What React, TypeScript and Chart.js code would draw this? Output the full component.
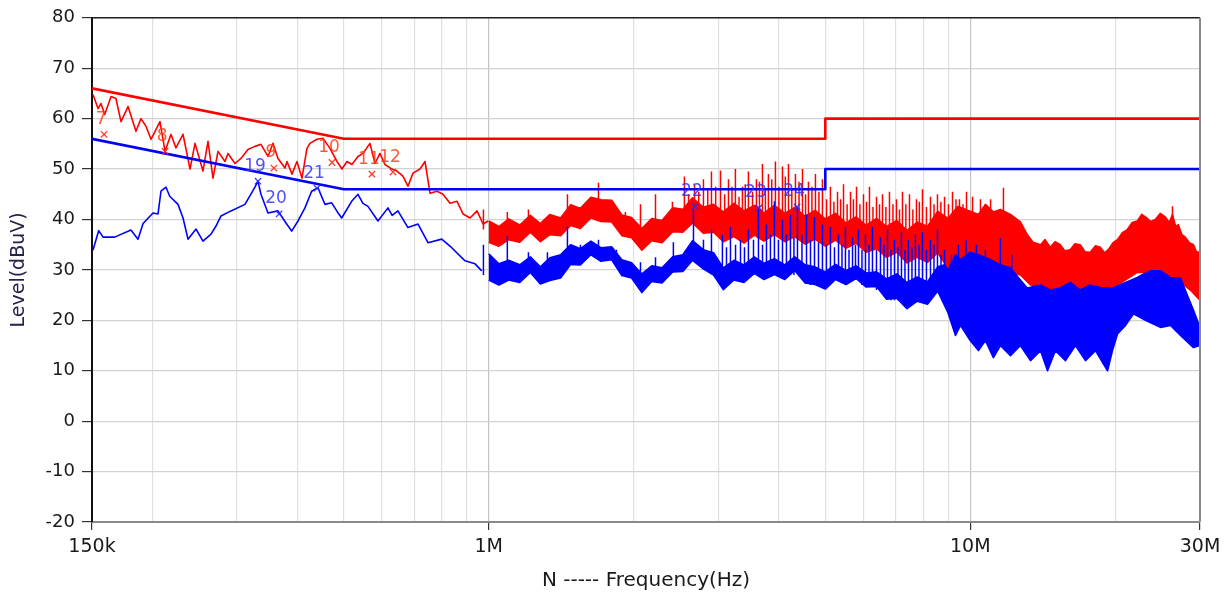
import { useEffect, useRef } from 'react';
import { Chart, registerables } from 'chart.js';

Chart.register(...registerables);

type P = [number, number];
type S = [number, number, number];

// ---- axes ----
const xGridValues = [0.15, 0.2, 0.3, 0.4, 0.5, 0.6, 0.7, 0.8, 0.9, 1, 2, 3, 4, 5, 6, 7, 8, 9, 10, 20, 30];
const xLabelValues = [0.15, 1, 10, 30];
const xLabelTexts = ['150k', '1M', '10M', '30M'];
const xMajorValues = [1, 10];
const yMin = -20;
const yMax = 80;
const yStep = 10;
const xTitle = 'N ----- Frequency(Hz)';
const yTitle = 'Level(dBuV)';

// ---- limit lines (MHz, dBuV) ----
const qpLimit: P[] = [[0.15, 66], [0.5, 56], [5, 56], [5, 60], [30, 60]];
const avLimit: P[] = [[0.15, 56], [0.5, 46], [5, 46], [5, 50], [30, 50]];

// ---- red (peak) trace, 150k - 1M ----
const redLF: P[] = [
  [0.1507, 64.8], [0.1544, 62.0], [0.1566, 63.0], [0.1594, 60.8], [0.1643, 64.4], [0.1682, 64.0], [0.1723, 59.4],
  [0.1782, 62.4], [0.1851, 57.5], [0.1896, 60.0], [0.1942, 58.5], [0.1989, 55.9], [0.2076, 59.4], [0.2127, 53.5],
  [0.2188, 56.9], [0.2241, 54.2], [0.2318, 56.9], [0.2397, 50.0], [0.2455, 55.1], [0.2550, 49.6], [0.2612, 55.5],
  [0.2675, 48.2], [0.2740, 53.5], [0.2833, 51.5], [0.2874, 53.1], [0.2972, 51.1], [0.3058, 52.1], [0.3162, 53.9],
  [0.3270, 54.5], [0.3365, 54.9], [0.3480, 52.5], [0.3564, 55.1], [0.3650, 52.1], [0.3775, 50.2], [0.3811, 51.5],
  [0.3903, 49.0], [0.3997, 51.5], [0.4094, 48.2], [0.4193, 54.1], [0.4253, 55.1], [0.4398, 55.9], [0.4526, 56.1],
  [0.4680, 54.1], [0.4840, 51.5], [0.4957, 50.0], [0.5077, 51.5], [0.5199, 50.9], [0.5351, 52.5], [0.5480, 53.1],
  [0.5667, 55.1], [0.5804, 51.1], [0.5944, 53.1], [0.6088, 50.9], [0.6295, 50.0], [0.6447, 49.6], [0.6635, 48.6],
  [0.6795, 46.6], [0.6962, 49.2], [0.7199, 50.0], [0.7374, 51.5], [0.7552, 45.2], [0.7809, 45.6], [0.8036, 45.0],
  [0.8310, 43.2], [0.8593, 43.6], [0.8844, 41.1], [0.9145, 40.3], [0.9456, 41.7], [0.9732, 39.1], [0.9967, 39.7],
];

// ---- red trace, 1M - 30M band edges ----
const redHigh: P[] = [
  [1.0, 39.7], [1.05, 38.6], [1.1, 40.1], [1.16, 38.9], [1.22, 40.8], [1.28, 39.2], [1.34, 41.0], [1.41, 40.3],
  [1.48, 42.9], [1.55, 42.2], [1.63, 44.4], [1.71, 43.9], [1.8, 43.8], [1.89, 40.9], [1.98, 40.4], [2.08, 38.2],
  [2.18, 40.2], [2.29, 39.8], [2.41, 42.3], [2.53, 42.0], [2.65, 44.3], [2.79, 42.4], [2.93, 43.0], [3.07, 41.5],
  [3.23, 43.2], [3.39, 41.7], [3.56, 42.8], [3.73, 41.3], [3.92, 42.8], [4.12, 41.2], [4.32, 42.4], [4.54, 40.6],
  [4.76, 41.8], [5.0, 40.1], [5.25, 41.2], [5.52, 39.3], [5.79, 40.5], [6.08, 38.8], [6.39, 40.2], [6.7, 38.6],
  [7.04, 39.8], [7.39, 37.8], [7.76, 39.5], [8.15, 38.6], [8.56, 41.6], [8.99, 40.2], [9.43, 42.6], [9.9, 41.8],
  [10.4, 41], [10.75, 43], [11.17, 41.5], [11.55, 42], [12.12, 41], [12.71, 39.5], [13.13, 37], [13.5, 35.5],
  [14.0, 35], [14.3, 36], [14.66, 34.5], [15.0, 35.6], [15.38, 35], [15.7, 33.8], [16.13, 34], [16.5, 35.2],
  [16.92, 35], [17.3, 33.6], [17.75, 33.5], [18.2, 34.8], [18.62, 34.5], [19.0, 33.4], [19.35, 34], [19.8, 35.4],
  [20.22, 36], [20.7, 37.4], [21.19, 38], [21.7, 39.4], [22.23, 39.7], [22.7, 41], [23.11, 40.5], [23.7, 39.6],
  [24.23, 40], [24.8, 41.2], [25.41, 40.5], [25.9, 39.4], [26.3, 41], [26.7, 38.6], [27.04, 39], [27.5, 37],
  [27.96, 36.5], [28.5, 35.4], [29.08, 35], [29.5, 33.6], [30, 33.5],
];
const redLow: P[] = [
  [1.0, 35.5], [1.05, 34.7], [1.1, 36.0], [1.16, 35.5], [1.22, 37.5], [1.28, 35.6], [1.34, 37.0], [1.41, 36.8],
  [1.48, 38.8], [1.55, 38.2], [1.63, 40.3], [1.71, 39.6], [1.8, 39.5], [1.89, 36.8], [1.98, 36.4], [2.08, 33.9],
  [2.18, 35.8], [2.29, 35.4], [2.41, 37.6], [2.53, 37.5], [2.65, 39.3], [2.79, 37.3], [2.93, 37.5], [3.07, 35.6],
  [3.23, 36.6], [3.39, 35.3], [3.56, 36.9], [3.73, 35.7], [3.92, 37.0], [4.12, 35.6], [4.32, 36.6], [4.54, 35.1],
  [4.76, 36.1], [5.0, 34.7], [5.25, 35.9], [5.52, 34.3], [5.79, 35.3], [6.08, 33.5], [6.39, 34.2], [6.7, 32.5],
  [7.04, 33.5], [7.39, 31.4], [7.76, 32.5], [8.15, 31.5], [8.56, 33.4], [8.99, 30.3], [9.43, 30.8], [9.9, 29.5],
  [11.55, 30], [12.71, 29], [13.34, 27], [15.38, 26], [17.75, 25.5], [20.22, 27], [22.23, 29.5], [24.83, 29.5],
  [26.66, 28.5], [28.64, 26], [30, 24],
];
// [MHz, base, top]
const redSpikes: S[] = [
  [0.975, 38, 42], [1.093, 37, 41.5], [1.209, 38, 42], [1.33, 37, 40.5], [1.457, 39, 45], [1.543, 39, 42.5],
  [1.69, 41, 47.3], [1.798, 40, 43.5], [1.922, 38, 41.5], [2.066, 36, 43], [2.22, 36, 45], [2.407, 38, 43.5],
  [2.549, 40, 48.5], [2.675, 40, 47], [2.792, 39, 48], [2.901, 39, 49.5], [3.029, 38, 49.7], [3.147, 38, 48],
  [3.253, 38, 50], [3.364, 38, 46.5], [3.462, 38, 49.5], [3.597, 38, 48], [3.702, 38, 51], [3.809, 38, 49],
  [3.939, 38, 51.5], [4.074, 38, 50.5], [4.193, 38, 51], [4.335, 37, 49], [4.483, 37, 50], [4.613, 37, 47.5],
  [4.77, 37, 49], [4.932, 37, 48], [5.124, 36, 46.5], [5.301, 36, 45.5], [5.455, 36, 47], [5.641, 36, 45.5],
  [5.805, 36, 46.5], [6.002, 35, 45], [6.176, 35, 46.5], [6.387, 35, 44.5], [6.573, 35, 45], [6.796, 34, 45.5],
  [7.027, 34, 44], [7.232, 34, 45.5], [7.478, 33, 45], [7.732, 33, 44], [7.957, 33, 46], [8.268, 34, 44.5],
  [8.549, 34, 45], [8.842, 33, 44.5], [9.186, 33, 45.5], [9.497, 33, 44], [9.822, 32, 45.5], [10.11, 32, 44.5],
  [10.5, 32, 44], [11.02, 32, 44], [11.72, 32, 46.3], [26.3, 30, 42.6],
  [2.6, 40, 45], [2.73, 39, 45.5], [2.85, 39, 46], [2.96, 38, 46.5], [3.09, 38, 45], [3.2, 38, 46.5],
  [3.31, 38, 44.5], [3.41, 38, 47], [3.53, 38, 45.5], [3.65, 38, 47.5], [3.755, 38, 46], [3.87, 38, 48],
  [4.005, 38, 46.5], [4.13, 38, 48.5], [4.26, 37, 46], [4.41, 37, 47.5], [4.55, 37, 45], [4.69, 37, 46.5],
  [4.85, 37, 45.5], [5.03, 36, 44], [5.21, 36, 43.5], [5.38, 36, 44], [5.55, 36, 43], [5.72, 36, 44],
  [5.9, 35, 43], [6.09, 35, 43.5], [6.28, 35, 42.5], [6.48, 35, 43], [6.68, 34, 42.5], [6.91, 34, 43],
  [7.13, 34, 42], [7.35, 33, 43], [7.6, 33, 42], [7.84, 33, 43.5], [8.11, 33, 42.5], [8.41, 34, 43],
  [8.69, 34, 43.5], [9.01, 33, 43], [9.34, 33, 44], [9.66, 32, 43],
];

// ---- blue (average) trace, 150k - 1M ----
const blueLF: P[] = [
  [0.1507, 33.9], [0.1549, 37.8], [0.1581, 36.5], [0.1672, 36.5], [0.1807, 37.9], [0.1869, 36.1], [0.1915, 39.2],
  [0.2008, 41.3], [0.2057, 41.1], [0.2086, 45.6], [0.2137, 46.4], [0.2175, 44.6], [0.2263, 43.0], [0.2318, 40.3],
  [0.2374, 36.1], [0.2467, 38.1], [0.2550, 35.7], [0.2650, 37.1], [0.2714, 38.7], [0.2780, 40.7], [0.2916, 41.7],
  [0.3117, 43.0], [0.3265, 46.3], [0.3317, 47.6], [0.3365, 45.0], [0.3480, 41.3], [0.3650, 41.7], [0.3793, 39.3],
  [0.3897, 37.7], [0.4017, 39.7], [0.4153, 42.3], [0.4288, 45.6], [0.4419, 46.3], [0.4570, 43.0], [0.4719, 43.3],
  [0.4850, 41.5], [0.4950, 40.3], [0.5192, 43.6], [0.5351, 45.0], [0.5480, 43.2], [0.5613, 42.6], [0.5888, 39.7],
  [0.6176, 42.3], [0.6300, 40.8], [0.6478, 41.7], [0.6795, 38.4], [0.7131, 39.1], [0.7480, 35.4], [0.7987, 36.1],
  [0.8378, 34.4], [0.8929, 31.8], [0.9366, 31.2], [0.9671, 29.8],
];

// ---- blue trace, 1M - 30M band edges ----
const blueHigh: P[] = [
  [1.0, 33.2], [1.05, 31.2], [1.1, 31.9], [1.16, 31.0], [1.22, 32.6], [1.28, 30.6], [1.34, 32.4], [1.41, 33.0],
  [1.48, 35.0], [1.55, 34.2], [1.63, 35.7], [1.71, 34.4], [1.8, 34.6], [1.89, 32.0], [1.98, 31.4], [2.08, 29.2],
  [2.18, 30.8], [2.29, 30.4], [2.41, 32.6], [2.53, 33.0], [2.65, 35.8], [2.79, 34.0], [2.93, 33.4], [3.07, 30.4],
  [3.23, 31.9], [3.39, 31.0], [3.56, 32.6], [3.73, 31.3], [3.92, 32.2], [4.12, 31.0], [4.32, 32.6], [4.54, 31.0],
  [4.76, 30.6], [5.0, 29.6], [5.25, 31.1], [5.52, 29.9], [5.79, 30.8], [6.08, 29.4], [6.39, 29.6], [6.7, 28.2],
  [7.04, 29.2], [7.39, 27.5], [7.76, 28.6], [8.15, 27.6], [8.56, 30.6], [8.85, 31], [9.0, 30], [9.32, 33],
  [9.54, 32], [10, 33.5], [10.4, 33], [11.02, 32], [11.55, 31], [12.12, 30.4], [12.71, 28], [13.13, 26.4],
  [13.99, 27], [14.66, 26], [15.38, 26.4], [16.13, 27.5], [16.92, 26], [17.75, 27], [18.62, 26.5], [19.74, 26.4],
  [21.01, 27.5], [22.23, 28.5], [22.91, 29.2], [23.69, 29.8], [24.83, 29.8], [26.06, 28.5], [27.33, 28.4],
  [27.96, 26], [29.08, 22], [30, 18.6],
];
const blueLow: P[] = [
  [1.0, 28.0], [1.05, 27.0], [1.1, 28.0], [1.16, 27.5], [1.22, 29.5], [1.28, 27.2], [1.34, 27.9], [1.41, 28.4],
  [1.48, 31.1], [1.55, 31.0], [1.63, 33.0], [1.71, 31.7], [1.8, 32.0], [1.89, 28.9], [1.98, 28.4], [2.08, 25.5],
  [2.18, 27.7], [2.29, 27.4], [2.41, 29.6], [2.53, 29.7], [2.65, 31.9], [2.79, 30.2], [2.93, 29.0], [3.07, 26.1],
  [3.23, 28.0], [3.39, 27.5], [3.56, 29.3], [3.73, 28.1], [3.92, 29.1], [4.12, 28.1], [4.32, 29.9], [4.54, 27.4],
  [4.76, 27.1], [5.0, 26.2], [5.25, 28.1], [5.52, 27.1], [5.79, 28.3], [6.08, 26.6], [6.39, 26.7], [6.7, 24.2],
  [7.04, 24.4], [7.39, 22.3], [7.76, 23.8], [8.15, 23.2], [8.56, 25.8], [8.99, 21.5], [9.32, 17], [9.54, 19],
  [10, 16], [10.4, 14], [10.75, 16], [11.17, 12.6], [11.55, 15], [12.12, 13], [12.71, 15], [13.34, 12],
  [13.99, 14], [14.47, 10], [15.03, 14], [15.77, 12], [16.54, 15], [17.35, 12], [18.2, 14], [19.28, 10],
  [19.74, 14], [20.22, 17.3], [21.01, 19], [21.83, 21.3], [23.11, 20], [24.83, 18.6], [26.06, 19], [27.33, 17],
  [29.08, 14.6], [30, 15],
];
const blueSpikes: S[] = [
  [0.975, 29, 35], [1.093, 28, 36.7], [1.209, 29, 33.5], [1.324, 28, 33.5], [1.457, 31, 38.7], [1.55, 32, 35],
  [1.69, 33, 36], [1.842, 31, 34], [2.066, 28, 31.5], [2.22, 28, 32.5], [2.418, 30, 35.5], [2.662, 33, 42],
  [2.792, 32, 36], [2.901, 31, 38], [3.057, 28, 37], [3.177, 28, 38.5], [3.333, 29, 36], [3.462, 29, 38],
  [3.632, 29, 42], [3.774, 30, 39], [3.92, 29, 43.6], [4.074, 29, 40], [4.232, 29, 41], [4.377, 30, 42.5],
  [4.57, 28, 41], [4.748, 27, 40.5], [4.932, 27, 39], [5.124, 28, 38.5], [5.326, 28, 37], [5.506, 28, 38.5],
  [5.695, 28, 36.5], [5.86, 28, 38], [6.059, 27, 37], [6.265, 27, 38.5], [6.509, 26, 36.5], [6.731, 25, 38],
  [6.961, 24, 36], [7.197, 24, 37.5], [7.442, 23, 36], [7.694, 24, 37], [7.957, 24, 37.5], [8.268, 24, 36],
  [8.549, 26, 38], [8.842, 26, 34], [9.141, 24, 33], [9.452, 22, 35], [9.8, 20, 36], [10.3, 18, 35],
  [10.75, 17, 34], [11.55, 17, 36.3], [12.2, 17, 33],
  [3.117, 28, 34.5], [3.255, 29, 35], [3.397, 29, 34.5], [3.547, 29, 36], [3.703, 29, 35], [3.846, 29, 37],
  [3.996, 29, 36], [4.152, 29, 37], [4.304, 29, 36.5], [4.472, 29, 37], [4.658, 27, 36], [4.84, 27, 35.5],
  [5.027, 28, 35], [5.224, 28, 34.5], [5.415, 28, 35], [5.6, 28, 34], [5.777, 28, 35], [5.958, 27, 34],
  [6.161, 27, 35], [6.386, 26, 34], [6.62, 25, 35], [6.845, 24, 34], [7.078, 24, 34.5], [7.318, 23, 34],
  [7.567, 24, 34.5], [7.825, 24, 35], [8.11, 24, 34], [8.407, 26, 35], [8.695, 26, 33],
];

// ---- markers ----
const redMarkerLabels = ['7', '8', '9', '10', '11', '12'];
const redMarkerFreq = [0.1589, 0.2127, 0.358, 0.4726, 0.572, 0.6326];
const redMarkerLevel = [56.9, 53.5, 50.2, 51.3, 49.0, 49.4];
const blueMarkerLabels = ['19', '20', '21', '22', '23', '24'];
const blueMarkerFreq = [0.3318, 0.3669, 0.44, 2.68, 3.64, 4.37];
const blueMarkerLevel = [47.6, 41.1, 46.2, 42.6, 42.3, 42.5];

const RED = '#ff0000';
const BLUE = '#0000ff';
const FONT = '"DejaVu Sans", Verdana, sans-serif';

const pts = (a: P[]) => a.map(([x, y]) => ({ x, y }));
const spikePts = (a: S[]) =>
  [...a].sort((p, q) => p[0] - q[0]).flatMap(([x, b, t]) => [{ x, y: b }, { x, y: t }, { x, y: null as any }]);
const markerPts = (f: number[], v: number[]) => f.map((x, i) => ({ x, y: v[i] }));

const framePlugin = {
  id: 'frame',
  afterDatasetsDraw(chart: any) {
    const { ctx, chartArea: a } = chart;
    ctx.save();
    ctx.strokeStyle = '#222';
    ctx.lineWidth = 1.5;
    ctx.beginPath();
    ctx.moveTo(a.left, a.top);
    ctx.lineTo(a.right, a.top);
    ctx.stroke();
    ctx.strokeStyle = '#8a8a8a';
    ctx.lineWidth = 2;
    ctx.beginPath();
    ctx.moveTo(a.right, a.top);
    ctx.lineTo(a.right, a.bottom);
    ctx.stroke();
    ctx.restore();
  },
};

const markerLabelPlugin = {
  id: 'markerLabels',
  afterDatasetsDraw(chart: any) {
    const { ctx } = chart;
    const xs = chart.scales.x;
    const ys = chart.scales.y;
    ctx.save();
    ctx.font = `17px ${FONT}`;
    ctx.textAlign = 'center';
    ctx.textBaseline = 'middle';
    const draw = (labels: string[], f: number[], v: number[], color: string) => {
      ctx.fillStyle = color;
      labels.forEach((t, i) => {
        ctx.fillText(t, xs.getPixelForValue(f[i]) - 3, ys.getPixelForValue(v[i]) - 15);
      });
    };
    draw(redMarkerLabels, redMarkerFreq, redMarkerLevel, 'rgba(255,60,20,0.85)');
    draw(blueMarkerLabels, blueMarkerFreq, blueMarkerLevel, 'rgba(50,50,255,0.85)');
    ctx.restore();
  },
};

export default function App() {
  const ref = useRef<HTMLCanvasElement>(null);

  useEffect(() => {
    if (!ref.current) return;
    const line = (data: any[], color: string, width: number, order: number, extra: any = {}) => ({
      type: 'line',
      data,
      borderColor: color,
      backgroundColor: color,
      borderWidth: width,
      pointRadius: 0,
      tension: 0,
      spanGaps: false,
      fill: false,
      order,
      ...extra,
    });

    const TW = 1.6;
    const datasets: any[] = [
      line(pts(redLF), RED, TW, 6),                                  // 0
      line(pts(redHigh), RED, TW, 5),                                // 1
      line(pts(redLow), RED, TW, 5, { fill: 1 }),                    // 2
      line(spikePts(redSpikes), RED, 1.5, 4),                        // 3
      line(pts(blueLF), BLUE, TW, 3),                                // 4
      line(pts(blueHigh), BLUE, TW, 3),                              // 5
      line(pts(blueLow), BLUE, TW, 3, { fill: 5 }),                  // 6
      line(spikePts(blueSpikes), BLUE, 1.5, 2),                      // 7
      line(pts(qpLimit), RED, 2.6, 1),                               // 8
      line(pts(avLimit), BLUE, 2.6, 1),                              // 9
      {
        type: 'line', data: markerPts(redMarkerFreq, redMarkerLevel), showLine: false,
        pointStyle: 'crossRot', pointRadius: 4.5, pointBorderWidth: 1.3, borderColor: 'rgba(255,40,20,0.9)', order: 0,
      },
      {
        type: 'line', data: markerPts(blueMarkerFreq, blueMarkerLevel), showLine: false,
        pointStyle: 'crossRot', pointRadius: 4.5, pointBorderWidth: 1.3, borderColor: 'rgba(40,40,255,0.9)', order: 0,
      },
    ];

    const chart = new Chart(ref.current, {
      type: 'line',
      data: { datasets },
      options: {
        animation: false,
        responsive: false,
        devicePixelRatio: 1,
        layout: { padding: { top: 16, right: 30, bottom: 0, left: 0 } },
        plugins: { legend: { display: false }, tooltip: { enabled: false }, title: { display: false } },
        elements: { line: { borderJoinStyle: 'round' } },
        scales: {
          x: {
            type: 'logarithmic',
            min: 0.15,
            max: 30,
            afterBuildTicks: (s: any) => {
              s.ticks = xGridValues.map((v) => ({ value: v }));
            },
            afterFit: (s: any) => {
              s.height = 77;
            },
            ticks: {
              autoSkip: false,
              maxRotation: 0,
              minRotation: 0,
              padding: 6,
              color: '#1a1a1a',
              font: { family: FONT, size: 19 },
              callback: (v: any) => {
                const i = xLabelValues.indexOf(Number(v));
                return i >= 0 ? xLabelTexts[i] : '';
              },
            },
            grid: {
              color: (c: any) => (xMajorValues.includes(c.tick?.value) ? '#c4c4c4' : '#e0e0e0'),
              lineWidth: 1.2,
              tickLength: 8,
              tickColor: (c: any) => (xLabelValues.includes(c.tick?.value) ? '#333' : 'rgba(0,0,0,0)'),
            },
            border: { color: '#8a8a8a', width: 2 },
            title: {
              display: true,
              text: xTitle,
              color: '#1a1a1a',
              font: { family: FONT, size: 20 },
              padding: { top: 0, bottom: 6 },
            },
          },
          y: {
            type: 'linear',
            min: yMin,
            max: yMax,
            afterFit: (s: any) => {
              s.width = 92;
            },
            ticks: {
              stepSize: yStep,
              padding: 7,
              color: '#1a1a1a',
              font: { family: FONT, size: 18 },
            },
            grid: { color: '#d2d2d2', lineWidth: 1.2, tickLength: 10, tickColor: '#333' },
            border: { color: '#111', width: 2 },
            title: {
              display: true,
              text: yTitle,
              color: '#22224a',
              font: { family: FONT, size: 19 },
              padding: { top: 8, bottom: 0 },
            },
          },
        },
      } as any,
      plugins: [framePlugin, markerLabelPlugin],
    });
    return () => chart.destroy();
  }, []);

  return (
    <div style={{ position: 'absolute', left: 0, top: 0, width: 1230, height: 599, background: '#fff' }}>
      <canvas ref={ref} width={1230} height={599} style={{ display: 'block', width: 1230, height: 599 }} />
    </div>
  );
}
